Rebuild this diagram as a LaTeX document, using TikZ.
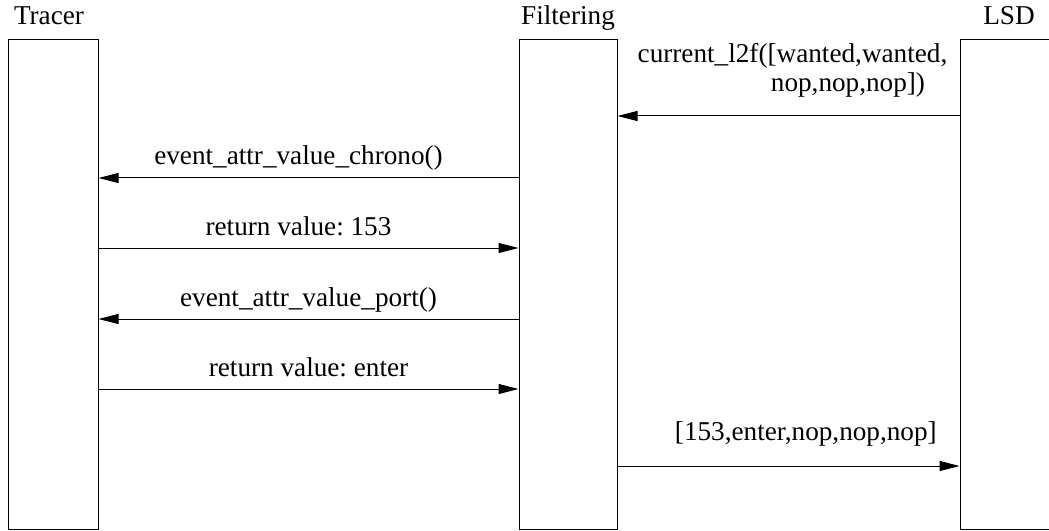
\documentclass[tikz,border=0pt]{standalone}
\usepackage{fontspec}
\setmainfont{Liberation Serif}
\usetikzlibrary{arrows.meta}
\frenchspacing
\begin{document}
\begin{tikzpicture}[x=0.75pt, y=-0.75pt, line width=0.75pt, font=\fontsize{20.4}{24}\selectfont]
\tikzset{vie/.style={draw, rectangle, inner sep=0pt, minimum height=366.75pt},
  msg/.style={-{Triangle[length=15pt, width=7.5pt]}},
  lbl/.style={anchor=base, inner sep=0pt, yshift=9.75pt}}
\useasboundingbox (0,0) rectangle (1049,531);
\node[vie, minimum width=67.5pt] (tracer) at (53,284.5) {};
\node[vie, minimum width=73.5pt] (filter) at (568,284.5) {};
\node[vie, minimum width=73.5pt] (lsd) at (1009,284.5) {};
\node[anchor=base, inner sep=0pt] (ttracer) at (49,25) {Tracer};
\node[anchor=base, inner sep=0pt] (tfilter) at (568,25) {Filtering};
\node[anchor=base, inner sep=0pt] (tlsd) at (1009,25) {LSD};
\draw[msg] (lsd.west |- 0,116) -- node[lbl, yshift=30pt, xshift=3pt] (m1a) {current\_l2f([wanted,wanted,}
  node[lbl, yshift=8.25pt, xshift=44.6pt] (m1b) {nop,nop,nop])} (filter.east |- 0,116);
\draw[msg] (filter.west |- 0,178) -- node[lbl, xshift=-7.5pt] (m2) {event\_attr\_value\_chrono()} (tracer.east |- 0,178);
\draw[msg] (tracer.east |- 0,248) -- node[lbl, xshift=-7.5pt] (m3) {return value: 153} (filter.west |- 0,248);
\draw[msg] (filter.west |- 0,319) -- node[lbl] (m4) {event\_attr\_value\_port()} (tracer.east |- 0,319);
\draw[msg] (tracer.east |- 0,389) -- node[lbl] (m5) {return value: enter} (filter.west |- 0,389);
\draw[msg] (filter.east |- 0,466) -- node[lbl, yshift=9.75pt, xshift=13pt] (m6) {[153,enter,nop,nop,nop]} (lsd.west |- 0,466);
\end{tikzpicture}
\end{document}
